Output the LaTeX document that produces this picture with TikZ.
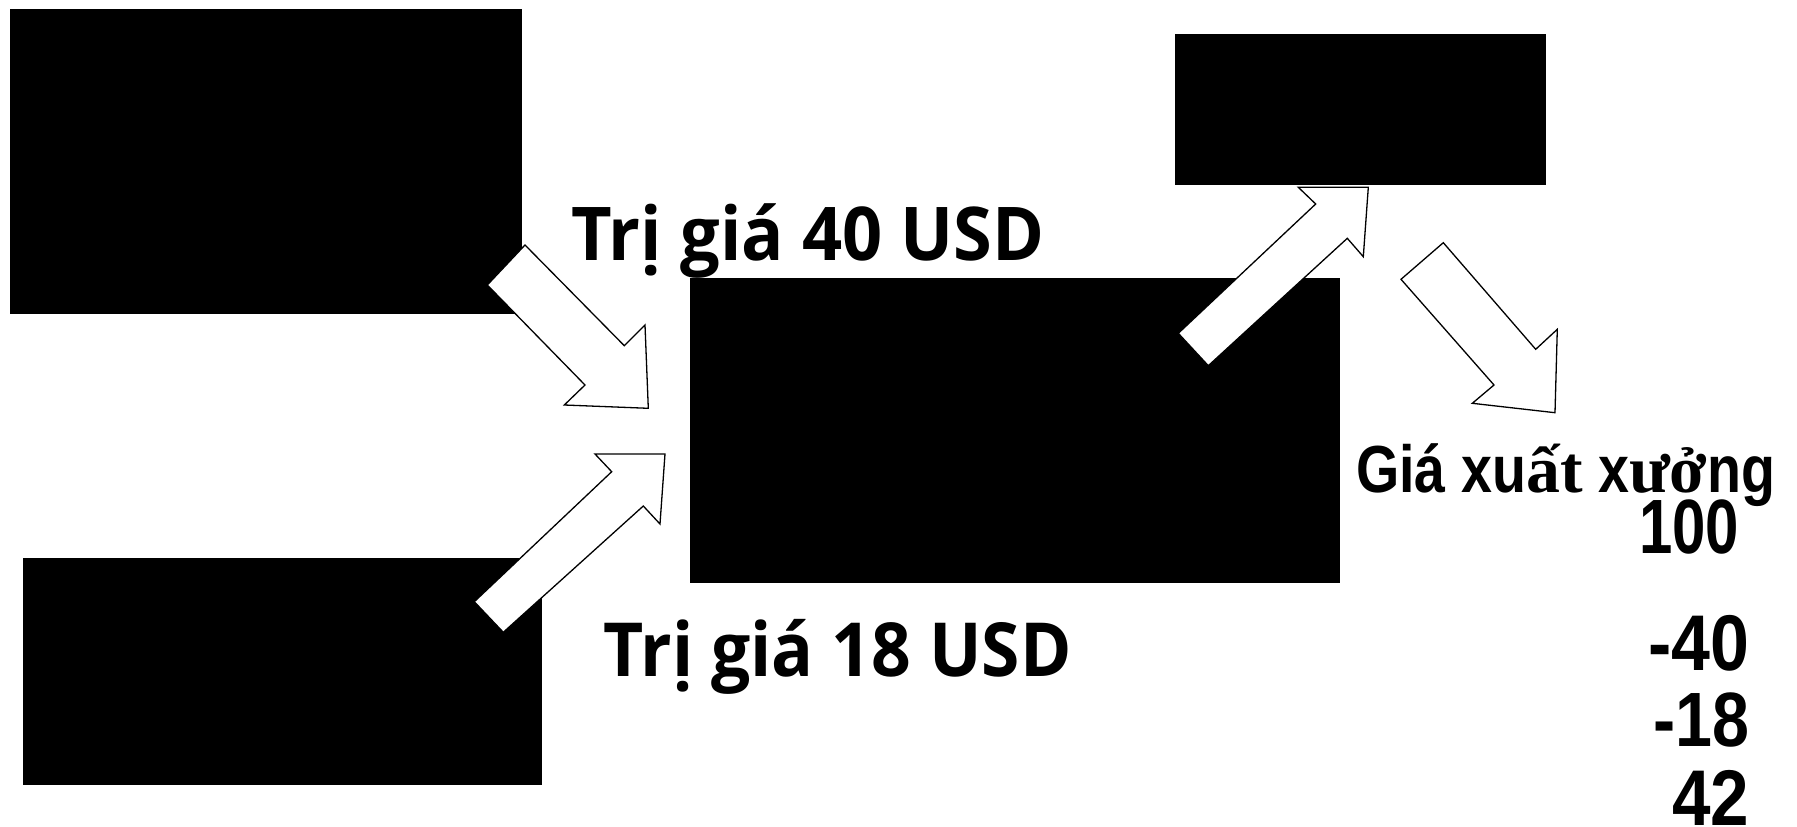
\documentclass[tikz,border=0pt]{standalone}
\usepackage{fontspec}
\usepackage{graphicx}
\newfontfamily\lblfont{Open Sans}
\newfontfamily\narrowfont{Liberation Sans}[FakeStretch=0.82]
\newfontfamily\fbfont{Liberation Serif}
\newfontfamily\numfont{Liberation Sans}
\tikzset{
  blackbox/.style={fill=black, draw=none, inner sep=0pt, anchor=north west},
  blockarrow/.style={fill=white, draw=black, line width=1.3pt, line join=miter},
  lbl/.style={inner sep=0pt, anchor=base west},
  num/.style={inner sep=0pt, anchor=base east}
}
\begin{document}
\begin{tikzpicture}[x=1pt, y=-1pt]
\useasboundingbox (0,0) rectangle (1797,827);
% boxes
\node[blackbox, minimum width=512pt, minimum height=305pt] (r1) at (9.6,8.3) {};
\node[blackbox, minimum width=519pt, minimum height=227pt] (r2) at (22.5,557.5) {};
\node[blackbox, minimum width=649.3pt, minimum height=305.2pt] (main) at (690,277.5) {};
\node[blackbox, minimum width=370.7pt, minimum height=151pt] (r3) at (1175,34) {};
% block arrows
\draw[blockarrow] (525,245) -- (624.3,345.7) -- (645,325) -- (648.3,408.3)
  -- (564.3,405) -- (585,385) -- (487.3,285) -- cycle;
\draw[blockarrow] (503.3,632.3) -- (643.3,506) -- (660,524) -- (665,454)
  -- (595,454) -- (611.7,471.7) -- (474.3,601.7) -- cycle;
\draw[blockarrow] (1208.3,365.7) -- (1347.3,238.3) -- (1363.3,256.7) -- (1368.3,187.3)
  -- (1298.3,187.3) -- (1315.7,204) -- (1178.3,333.3) -- cycle;
\draw[blockarrow] (1443.3,242.7) -- (1535.7,349.3) -- (1557.3,329.3) -- (1555,412.7)
  -- (1472.3,403.3) -- (1494,385) -- (1401,279.3) -- cycle;
% labels
\node[lbl] (t40) at (571.5,260) {\resizebox{473pt}{\height}{\lblfont\bfseries\fontsize{74.2pt}{80pt}\selectfont Trị giá 40 USD}};
\node[lbl] (t18) at (603.5,676) {\resizebox{468pt}{\height}{\lblfont\bfseries\fontsize{74.6pt}{80pt}\selectfont Trị giá 18 USD}};
\node[lbl] (gx) at (1356,492.7) {\resizebox{419pt}{\height}{\fontsize{66.6pt}{72pt}\selectfont{\narrowfont\bfseries Giá xu}{\fbfont\bfseries ất}{\narrowfont\bfseries{} x}{\fbfont\bfseries ưở}{\narrowfont\bfseries ng}}};
\node[num] (n100) at (1739.5,553.3) {\resizebox{100pt}{\height}{\numfont\bfseries\fontsize{77pt}{80pt}\selectfont 100}};
\node[num] (n40) at (1749.5,670) {\resizebox{101pt}{\height}{\numfont\bfseries\fontsize{79pt}{80pt}\selectfont -40}};
\node[num] (n18) at (1749.5,746.7) {\resizebox{96pt}{\height}{\numfont\bfseries\fontsize{77pt}{80pt}\selectfont -18}};
\node[num] (n42) at (1749.5,825) {\resizebox{77pt}{\height}{\numfont\bfseries\fontsize{79pt}{80pt}\selectfont 42}};
\end{tikzpicture}
\end{document}
